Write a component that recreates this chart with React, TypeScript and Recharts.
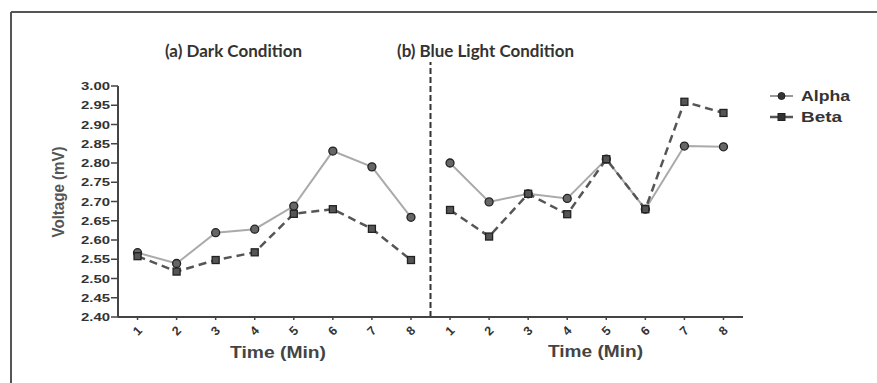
import React from 'react';
import { LineChart, Line, XAxis, YAxis, ReferenceLine } from 'recharts';

const minuteLabels = ['1', '2', '3', '4', '5', '6', '7', '8'];
const darkAlpha = [2.567, 2.539, 2.619, 2.628, 2.688, 2.831, 2.79, 2.659];
const darkBeta = [2.558, 2.518, 2.548, 2.568, 2.668, 2.68, 2.629, 2.548];
const blueAlpha = [2.8, 2.699, 2.72, 2.708, 2.81, 2.68, 2.844, 2.842];
const blueBeta = [2.678, 2.609, 2.72, 2.667, 2.81, 2.68, 2.959, 2.93];
const voltageTicks = [2.4, 2.45, 2.5, 2.55, 2.6, 2.65, 2.7, 2.75, 2.8, 2.85, 2.9, 2.95, 3.0];
const panelTitles = ['(a) Dark Condition', '(b) Blue Light Condition'];
const seriesNames = ['Alpha', 'Beta'];

const positions = Array.from({ length: 16 }, (_, i) => i + 1);
const data = positions.map((p, i) => ({
  pos: p,
  label: minuteLabels[i % 8],
  darkAlpha: i < 8 ? darkAlpha[i] : null,
  darkBeta: i < 8 ? darkBeta[i] : null,
  blueAlpha: i >= 8 ? blueAlpha[i - 8] : null,
  blueBeta: i >= 8 ? blueBeta[i - 8] : null,
}));

const SANS = '"Liberation Sans", Arial, sans-serif';

const XTick = (props: any) => {
  const { x, y, payload } = props;
  const lbl = minuteLabels[(payload.value - 1) % 8];
  return (
    <text
      x={x}
      y={y + 9}
      textAnchor="middle"
      dominantBaseline="central"
      transform={`rotate(-45, ${x}, ${y + 9})`}
      fontFamily={SANS}
      fontWeight="bold"
      fontSize={12.5}
      fill="#333"
    >
      {lbl}
    </text>
  );
};

const YTick = (props: any) => {
  const { x, y, payload } = props;
  return (
    <text
      x={x + 1}
      y={y}
      textAnchor="end"
      dominantBaseline="central"
      fontFamily={SANS}
      fontWeight="bold"
      fontSize={11}
      fill="#333"
      textLength={29}
      lengthAdjust="spacingAndGlyphs"
    >
      {payload.value.toFixed(2)}
    </text>
  );
};

const CircleDot = (props: any) => {
  const { cx, cy, index } = props;
  if (cx == null || cy == null || props.value == null) return <g key={`c${index}`} />;
  return <circle key={`c${index}`} cx={cx} cy={cy} r={4} fill="#666" stroke="#222" strokeWidth={1.3} />;
};

const SquareDot = (props: any) => {
  const { cx, cy, index } = props;
  if (cx == null || cy == null || props.value == null) return <g key={`s${index}`} />;
  return <rect key={`s${index}`} x={cx - 3.5} y={cy - 3.5} width={7} height={7} fill="#555" stroke="#222" strokeWidth={1.3} />;
};

export default function App() {
  return (
    <div style={{ position: 'absolute', left: 0, top: 0, width: 877, height: 383, background: '#fff' }}>
      <LineChart
        width={877}
        height={383}
        data={data}
        margin={{ top: 86, right: 134, left: 58, bottom: 0 }}
      >
        <line x1={11} y1={12} x2={877} y2={12} stroke="#555" strokeWidth={2} />
        <line x1={11} y1={12} x2={11} y2={383} stroke="#555" strokeWidth={2} />
        <XAxis
          dataKey="pos"
          type="number"
          domain={[0.5, 16.5]}
          ticks={positions}
          interval={0}
          height={66}
          tickSize={3}
          tickMargin={2}
          axisLine={{ stroke: '#444', strokeWidth: 2 }}
          tickLine={{ stroke: '#444', strokeWidth: 1.5 }}
          tick={<XTick />}
        />
        <YAxis
          type="number"
          domain={[2.4, 3.0]}
          ticks={voltageTicks}
          interval={0}
          width={60}
          tickSize={7}
          tickMargin={2}
          axisLine={{ stroke: '#444', strokeWidth: 2 }}
          tickLine={{ stroke: '#444', strokeWidth: 1.5 }}
          tick={<YTick />}
        />
        <ReferenceLine
          segment={[{ x: 8.5, y: 2.4 }, { x: 8.5, y: 3.0625 }]}
          ifOverflow="visible"
          stroke="#333"
          strokeWidth={2}
          strokeDasharray="6 3"
        />
        <Line dataKey="darkAlpha" stroke="#aaa" strokeWidth={2} dot={CircleDot} isAnimationActive={false} />
        <Line dataKey="darkBeta" stroke="#555" strokeWidth={2.5} strokeDasharray="8 5" dot={SquareDot} isAnimationActive={false} />
        <Line dataKey="blueAlpha" stroke="#aaa" strokeWidth={2} dot={CircleDot} isAnimationActive={false} />
        <Line dataKey="blueBeta" stroke="#555" strokeWidth={2.5} strokeDasharray="8 5" dot={SquareDot} isAnimationActive={false} />

        <text x={233.5} y={57} textAnchor="middle" fontFamily="Lato, 'Open Sans', sans-serif" fontWeight="bold" fontSize={17} fill="#333" textLength={137} lengthAdjust="spacingAndGlyphs">{panelTitles[0]}</text>
        <text x={485.5} y={57} textAnchor="middle" fontFamily="Lato, 'Open Sans', sans-serif" fontWeight="bold" fontSize={17} fill="#333" textLength={177} lengthAdjust="spacingAndGlyphs">{panelTitles[1]}</text>

        <text x={278} y={358} textAnchor="middle" fontFamily={SANS} fontWeight="bold" fontSize={16} fill="#444" textLength={96} lengthAdjust="spacingAndGlyphs">Time (Min)</text>
        <text x={595.5} y={357} textAnchor="middle" fontFamily={SANS} fontWeight="bold" fontSize={16} fill="#444" textLength={95} lengthAdjust="spacingAndGlyphs">Time (Min)</text>

        <text transform="translate(64,192) rotate(-90)" textAnchor="middle" fontFamily={SANS} fontWeight="bold" fontSize={16} fill="#555" textLength={91} lengthAdjust="spacingAndGlyphs">Voltage (mV)</text>

        <line x1={770} y1={96} x2={793} y2={96} stroke="#999" strokeWidth={2} />
        <circle cx={781.5} cy={96} r={3.5} fill="#333" stroke="#222" />
        <text x={801} y={101} fontFamily={SANS} fontWeight="bold" fontSize={15} fill="#333" textLength={49} lengthAdjust="spacingAndGlyphs">{seriesNames[0]}</text>
        <line x1={770} y1={117} x2={793} y2={117} stroke="#555" strokeWidth={2.5} />
        <rect x={778} y={113.5} width={7} height={7} fill="#333" stroke="#222" />
        <text x={801} y={122} fontFamily={SANS} fontWeight="bold" fontSize={15} fill="#333" textLength={41} lengthAdjust="spacingAndGlyphs">{seriesNames[1]}</text>
      </LineChart>
    </div>
  );
}
